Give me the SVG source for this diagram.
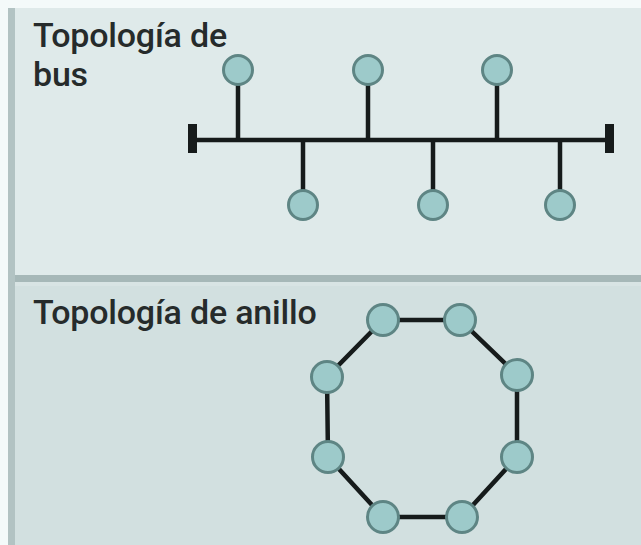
<svg xmlns="http://www.w3.org/2000/svg" width="641" height="545" viewBox="0 0 641 545">
<style>
.lbl{font-family:Roboto,"Liberation Sans",Arial,sans-serif;font-weight:500;font-size:34px;fill:#262b2b;letter-spacing:-0.2px}
.node{fill:#9dcaca;stroke:#5e8584;stroke-width:3}
.wire{stroke:#161b1b;stroke-width:4.5;fill:none;stroke-linecap:butt}
</style>
<rect x="0" y="0" width="641" height="545" fill="#f4fafa"/>
<rect x="8" y="8" width="633" height="268" fill="#dfeaea"/>
<rect x="8" y="276" width="633" height="269" fill="#d2e0e0"/>
<rect x="8" y="275" width="633" height="8" fill="#a6b8b8"/>
<rect x="8" y="282" width="633" height="4" fill="#d8e4e4"/>
<rect x="8" y="8" width="7" height="537" fill="#b2c3c3"/>
<text class="lbl" x="33" y="47">Topología de</text>
<text class="lbl" x="33" y="86">bus</text>
<text class="lbl" x="33" y="324">Topología de anillo</text>
<g id="connectors">
<line class="wire" x1="196" y1="140" x2="608" y2="140"/>
<rect x="188" y="124" width="9" height="29" fill="#161b1b"/>
<rect x="605" y="124" width="9" height="29" fill="#161b1b"/>
<line class="wire" x1="238" y1="70" x2="238" y2="140"/>
<line class="wire" x1="368" y1="70" x2="368" y2="140"/>
<line class="wire" x1="497" y1="70" x2="497" y2="140"/>
<line class="wire" x1="303" y1="140" x2="303" y2="205"/>
<line class="wire" x1="433" y1="140" x2="433" y2="205"/>
<line class="wire" x1="560" y1="140" x2="560" y2="205"/>
<polygon class="wire" points="383,320 460,320 517,375 517,457 462,517 383,517 328,457 327,377"/>
</g>
<g id="bus-n1"><circle class="node" cx="238" cy="70" r="14.5"/></g>
<g id="bus-n2"><circle class="node" cx="368" cy="70" r="14.5"/></g>
<g id="bus-n3"><circle class="node" cx="497" cy="70" r="14.5"/></g>
<g id="bus-n4"><circle class="node" cx="303" cy="205" r="14.5"/></g>
<g id="bus-n5"><circle class="node" cx="433" cy="205" r="14.5"/></g>
<g id="bus-n6"><circle class="node" cx="560" cy="205" r="14.5"/></g>
<g id="ring-n1"><circle class="node" cx="383" cy="320" r="15.5"/></g>
<g id="ring-n2"><circle class="node" cx="460" cy="320" r="15.5"/></g>
<g id="ring-n3"><circle class="node" cx="517" cy="375" r="15.5"/></g>
<g id="ring-n4"><circle class="node" cx="517" cy="457" r="15.5"/></g>
<g id="ring-n5"><circle class="node" cx="462" cy="517" r="15.5"/></g>
<g id="ring-n6"><circle class="node" cx="383" cy="517" r="15.5"/></g>
<g id="ring-n7"><circle class="node" cx="328" cy="457" r="15.5"/></g>
<g id="ring-n8"><circle class="node" cx="327" cy="377" r="15.5"/></g>
</svg>
